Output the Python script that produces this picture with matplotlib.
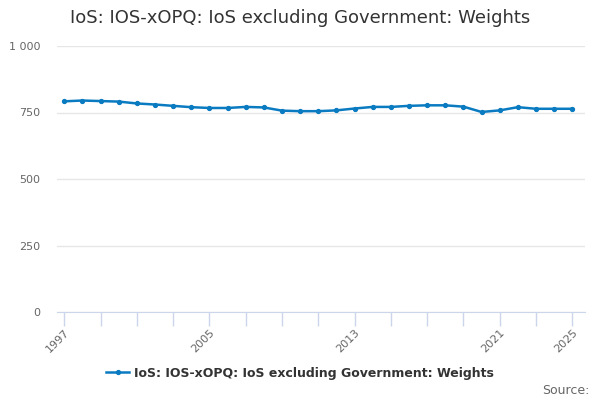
import matplotlib
matplotlib.use("Agg")
import matplotlib.pyplot as plt
from matplotlib.ticker import FuncFormatter

# annual weights
years = list(range(1997, 2026))
weights = [792, 795, 793, 791, 784, 780, 775, 770, 767, 767,
           771, 769, 757, 755, 755, 758, 765, 771, 771, 775,
           777, 777, 772, 752, 758, 770, 764, 764, 764]
label_years = [1997, 2005, 2013, 2021, 2025]
series_name = "IoS: IOS-xOPQ: IoS excluding Government: Weights"

plt.rcParams['font.family'] = ['DejaVu Sans']

fig = plt.figure(figsize=(6, 4), dpi=100)
ax = fig.add_axes([0.095, 0.22, 0.88, 0.665])

ax.plot(years, weights, color='#0a7bc1', lw=1.8, marker='o', ms=2.8,
        label=series_name)

ax.set_ylim(0, 1000)
ax.set_xlim(1996.6, 2025.7)
ax.set_yticks([0, 250, 500, 750, 1000])
ax.yaxis.set_major_formatter(FuncFormatter(lambda v, p: f"{int(v):,}".replace(",", " ")))
ax.grid(axis='y', color='#e6e6e6', lw=1)
ax.set_axisbelow(True)

# tick every two years, label only a few of them
tick_years = list(range(1997, 2026, 2))
ax.set_xticks(tick_years)
ax.set_xticklabels([str(y) if y in label_years else "" for y in tick_years],
                   rotation=45, ha='right', rotation_mode='anchor')
ax.tick_params(axis='x', length=10, color='#ccd6eb', width=1, pad=1,
               labelsize=8, labelcolor='#666666')
ax.tick_params(axis='y', length=0, labelsize=8, labelcolor='#666666', pad=12)

for s in ['top', 'right', 'left']:
    ax.spines[s].set_visible(False)
ax.spines['bottom'].set_color('#ccd6eb')

fig.text(0.5, 0.955, series_name, ha='center', va='center',
         fontsize=13, color='#333333')

leg = fig.legend(loc='center', bbox_to_anchor=(0.5, 0.067), frameon=False,
                 handlelength=1.8, handletextpad=0.4,
                 prop={'size': 9, 'weight': 'bold'})
for t in leg.get_texts():
    t.set_color('#333333')

fig.text(0.983, 0.025, "Source:", ha='right', va='center', fontsize=9,
         color='#666666')

fig.savefig("out.png", dpi=100)
